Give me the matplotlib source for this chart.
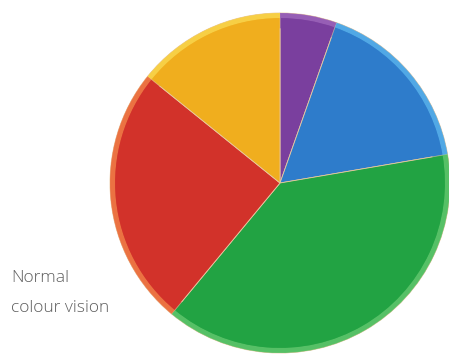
import matplotlib
matplotlib.use('Agg')
import matplotlib.pyplot as plt

# slice shares, clockwise from 12 o'clock
labels = ['purple', 'blue', 'green', 'red', 'yellow']
shares = [5.4, 16.9, 38.7, 24.8, 14.2]
colours = ['#7a3f9e', '#2e7ccb', '#22a343', '#d2322a', '#f0ae1e']
rim_colours = ['#9a62b8', '#55aee8', '#5cc46a', '#ee7a45', '#f8d34a']
caption = ['Normal', 'colour vision']

fig = plt.figure(figsize=(4.49, 3.54), dpi=100)
ax = fig.add_axes([110/449, 1/354, 340/449, 340/354])

# main pie
ax.pie(shares, colors=colours, startangle=90, counterclock=False, radius=1,
       wedgeprops=dict(edgecolor='#e8c8a0', linewidth=0.6))
# lighter rim
ax.pie(shares, colors=rim_colours, startangle=90, counterclock=False, radius=1,
       wedgeprops=dict(width=0.03, edgecolor='none', alpha=0.9))
# soft inner shade ring
ax.pie(shares, colors=colours, startangle=90, counterclock=False, radius=0.97,
       wedgeprops=dict(width=0.06, edgecolor='none', alpha=0.5))
ax.set_xlim(-1, 1)
ax.set_ylim(-1, 1)
ax.axis('off')

fig.text(11/449, 1 - 282/354, caption[0], fontsize=12.5, color='#5f5f5f',
         family='Open Sans', fontweight='light', va='baseline', ha='left')
fig.text(11/449, 1 - 312/354, caption[1], fontsize=12.5, color='#5f5f5f',
         family='Open Sans', fontweight='light', va='baseline', ha='left')

fig.savefig('out.png', dpi=100)
